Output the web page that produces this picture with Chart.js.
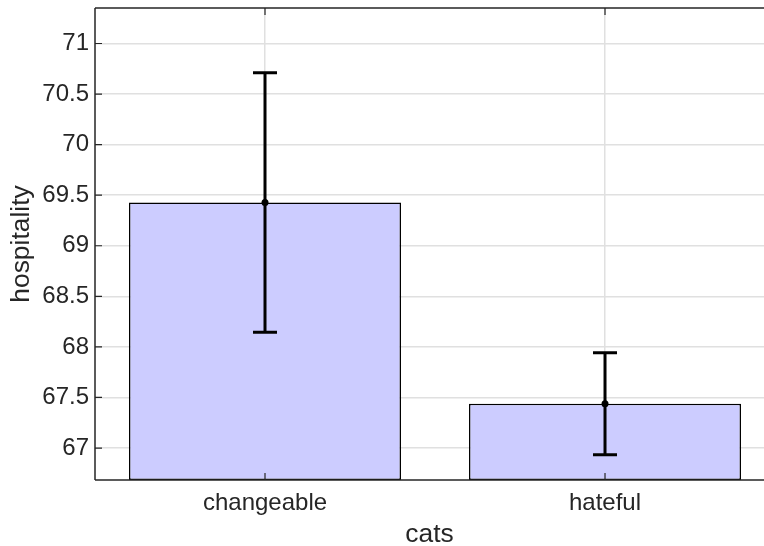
<!DOCTYPE html>
<html>
<head>
<meta charset="utf-8">
<script src="https://cdn.jsdelivr.net/npm/chart.js@4/dist/chart.umd.min.js"></script>
<style>
  html, body { margin: 0; padding: 0; background: #fff; overflow: hidden; }
  #wrap { position: relative; width: 764px; height: 546px; }
</style>
</head>
<body>
<div id="wrap"><canvas id="c" width="764" height="546"></canvas></div>
<script>
// Group names and their mean hospitality with error half-widths
const categories = ['changeable', 'hateful'];
const means = [69.427, 67.438];
const errors = [1.283, 0.505];

// Axis limits and tick values
const yMin = 66.684;
const yMax = 71.351;
const yTicks = [67, 67.5, 68, 68.5, 69, 69.5, 70, 70.5, 71];
const xMin = -0.5;
const xMax = 1.4676;

const TEXT = '#262626';
const AXIS = '#262626';
const GRID = '#e0e0e0';
const FONT = '"Liberation Sans", Arial, Helvetica, sans-serif';

// Axis frame, inward tick marks and error bars
const framePlugin = {
  id: 'frame',
  afterDatasetsDraw(chart) {
    const { ctx, chartArea: a, scales: { x, y } } = chart;
    ctx.save();
    // error bars
    ctx.strokeStyle = '#000';
    ctx.fillStyle = '#000';
    ctx.lineWidth = 3;
    ctx.lineCap = 'butt';
    means.forEach((m, i) => {
      const px = x.getPixelForValue(i);
      const top = y.getPixelForValue(m + errors[i]);
      const bot = y.getPixelForValue(m - errors[i]);
      const cap = 12;
      ctx.beginPath();
      ctx.moveTo(px, top); ctx.lineTo(px, bot);
      ctx.moveTo(px - cap, top); ctx.lineTo(px + cap, top);
      ctx.moveTo(px - cap, bot); ctx.lineTo(px + cap, bot);
      ctx.stroke();
      ctx.beginPath();
      ctx.arc(px, y.getPixelForValue(m), 3.5, 0, Math.PI * 2);
      ctx.fill();
    });
    // axis lines
    ctx.strokeStyle = AXIS;
    ctx.lineWidth = 1.5;
    ctx.beginPath();
    ctx.moveTo(a.left, a.top); ctx.lineTo(a.right, a.top);
    ctx.moveTo(a.left, a.top); ctx.lineTo(a.left, a.bottom);
    ctx.moveTo(a.left, a.bottom); ctx.lineTo(a.right, a.bottom);
    ctx.stroke();
    // inward ticks
    ctx.lineWidth = 1.2;
    ctx.beginPath();
    yTicks.forEach(v => {
      const py = y.getPixelForValue(v);
      ctx.moveTo(a.left, py); ctx.lineTo(a.left + 7, py);
    });
    categories.forEach((c, i) => {
      const px = x.getPixelForValue(i);
      ctx.moveTo(px, a.bottom); ctx.lineTo(px, a.bottom - 7);
      ctx.moveTo(px, a.top); ctx.lineTo(px, a.top + 7);
    });
    ctx.stroke();
    ctx.restore();
  }
};

const chart = new Chart(document.getElementById('c'), {
  type: 'bar',
  data: {
    datasets: [{
      data: means.map((m, i) => ({ x: i, y: m })),
      backgroundColor: '#ccccff',
      borderColor: '#000',
      borderWidth: 1.5,
      borderSkipped: false,
      base: yMin,
      categoryPercentage: 0.8,
      barPercentage: 1.0
    }]
  },
  options: {
    responsive: false,
    animation: false,
    devicePixelRatio: 1,
    layout: { padding: { top: 8, left: 0, right: 0, bottom: 0 } },
    plugins: { legend: { display: false }, tooltip: { enabled: false } },
    scales: {
      x: {
        type: 'linear',
        min: xMin,
        max: xMax,
        offset: false,
        afterBuildTicks: s => { s.ticks = categories.map((c, i) => ({ value: i })); },
        afterFit: s => { s.height = 66; s.paddingLeft = 0; s.paddingRight = 0; },
        ticks: {
          callback: v => categories[v],
          color: TEXT,
          font: { family: FONT, size: 24 },
          padding: 9,
          maxRotation: 0,
          autoSkip: false
        },
        grid: { color: GRID, lineWidth: 1.5, drawTicks: false, offset: false },
        border: { display: false },
        title: {
          display: true,
          text: 'cats',
          color: TEXT,
          font: { family: FONT, size: 26.4, lineHeight: 1 },
          padding: { top: 0, bottom: -1.5 }
        }
      },
      y: {
        min: yMin,
        max: yMax,
        afterBuildTicks: s => { s.ticks = yTicks.map(v => ({ value: v })); },
        afterFit: s => { s.width = 95; s.paddingTop = 0; s.paddingBottom = 0; },
        ticks: {
          callback: v => String(Number(v.toFixed(1))),
          color: TEXT,
          font: { family: FONT, size: 24 },
          padding: 6
        },
        grid: { color: GRID, lineWidth: 1.5, drawTicks: false },
        border: { display: false },
        title: {
          display: true,
          text: 'hospitality',
          color: TEXT,
          font: { family: FONT, size: 26.4 },
          padding: { top: 6, bottom: 0 }
        }
      }
    }
  },
  plugins: [framePlugin]
});
</script>
</body>
</html>
